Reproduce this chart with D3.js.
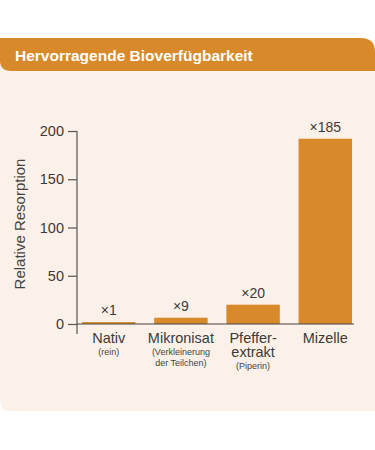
<!DOCTYPE html>
<html>
<head>
<meta charset="utf-8">
<script src="https://cdn.jsdelivr.net/npm/d3@7"></script>
<style>
  body { margin: 0; background: #ffffff; }
  svg { display: block; font-family: "Liberation Sans", Arial, sans-serif; }
</style>
</head>
<body>
<svg id="chart" width="375" height="450"></svg>
<script>
// chart data
var categories = ["Nativ", "Mikronisat", "Pfeffer-extrakt", "Mizelle"];
var mainLabels = [["Nativ"], ["Mikronisat"], ["Pfeffer-", "extrakt"], ["Mizelle"]];
var subLabels = [["(rein)"], ["(Verkleinerung", "der Teilchen)"], ["(Piperin)"], []];
var barValues = [2, 6.5, 20, 192];
var factorLabels = ["×1", "×9", "×20", "×185"];
var yTicks = [0, 50, 100, 150, 200];

var orange = "#d88a2a";
var cream = "#fbf1e8";
var textCol = "#3a3a3a";

var svg = d3.select("#chart");

// panel background, bottom-left corner rounded
svg.append("path")
    .attr("d", "M0,60 L375,60 L375,411 L12,411 Q0,411 0,399 Z")
    .attr("fill", cream);

// header bar: top-right and bottom-left rounded
svg.append("path")
    .attr("d", "M0,38 L361,38 Q375,38 375,52 L375,71 L11,71 Q0,71 0,60 Z")
    .attr("fill", orange);

svg.append("text")
    .attr("x", 15)
    .attr("y", 60.5)
    .attr("fill", "#ffffff")
    .style("font-size", "15.5px")
    .style("font-weight", "bold")
    .text("Hervorragende Bioverfügbarkeit");

var x = d3.scaleBand()
    .domain(categories)
    .range([82, 352])
    .paddingInner(0.26)
    .paddingOuter(0);

var y = d3.scaleLinear()
    .domain([0, 200])
    .range([324, 131]);

var g = svg.append("g");

// bars
g.selectAll("rect.bar")
    .data(barValues)
    .enter().append("rect")
    .attr("class", "bar")
    .attr("x", function (d, i) { return x(categories[i]); })
    .attr("width", x.bandwidth())
    .attr("y", function (d) { return y(d); })
    .attr("height", function (d) { return y(0) - y(d); })
    .attr("fill", orange);

// factor labels above bars
g.selectAll("text.factor")
    .data(factorLabels)
    .enter().append("text")
    .attr("class", "factor")
    .attr("x", function (d, i) { return x(categories[i]) + x.bandwidth() / 2; })
    .attr("y", function (d, i) { return y(barValues[i]) - 7; })
    .attr("text-anchor", "middle")
    .attr("fill", textCol)
    .style("font-size", "14px")
    .text(function (d) { return d; });

// y axis
var yAxis = d3.axisLeft(y)
    .tickValues(yTicks)
    .tickSize(9)
    .tickPadding(4);

var ya = svg.append("g")
    .attr("transform", "translate(77,0)")
    .call(yAxis);
ya.select(".domain").remove();
ya.selectAll(".tick line").attr("stroke", "#555").attr("stroke-width", 1.2);
ya.selectAll(".tick text")
    .attr("fill", textCol)
    .style("font-size", "14.5px")
    .style("font-family", "'Liberation Sans', Arial, sans-serif");

// vertical axis line, reaching below the baseline
svg.append("line")
    .attr("x1", 77).attr("x2", 77)
    .attr("y1", y(200)).attr("y2", y(0) + 10)
    .attr("stroke", "#555").attr("stroke-width", 1.2);

// baseline
svg.append("line")
    .attr("x1", 77).attr("x2", 354)
    .attr("y1", y(0)).attr("y2", y(0))
    .attr("stroke", "#444").attr("stroke-width", 1.2);

// axis title
svg.append("text")
    .attr("transform", "translate(25,224) rotate(-90)")
    .attr("text-anchor", "middle")
    .attr("fill", "#444")
    .style("font-size", "15px")
    .text("Relative Resorption");

// category labels (multi-line names as tspans in one text)
categories.forEach(function (c, i) {
    var cx = x(c) + x.bandwidth() / 2;
    var yy = 343;
    var main = svg.append("text")
        .attr("x", cx)
        .attr("y", yy)
        .attr("text-anchor", "middle")
        .attr("fill", textCol)
        .style("font-size", "14.5px");
    mainLabels[i].forEach(function (t, j) {
        main.append("tspan")
            .attr("x", cx)
            .attr("y", yy + j * 13.5)
            .text(t);
    });
    var sy = yy + (mainLabels[i].length - 1) * 13.5 + 12;
    var sub = svg.append("text")
        .attr("x", cx)
        .attr("y", sy)
        .attr("text-anchor", "middle")
        .attr("fill", "#444")
        .style("font-size", "9px");
    subLabels[i].forEach(function (t, j) {
        sub.append("tspan")
            .attr("x", cx)
            .attr("y", sy + j * 11)
            .text(t);
    });
});
</script>
</body>
</html>
